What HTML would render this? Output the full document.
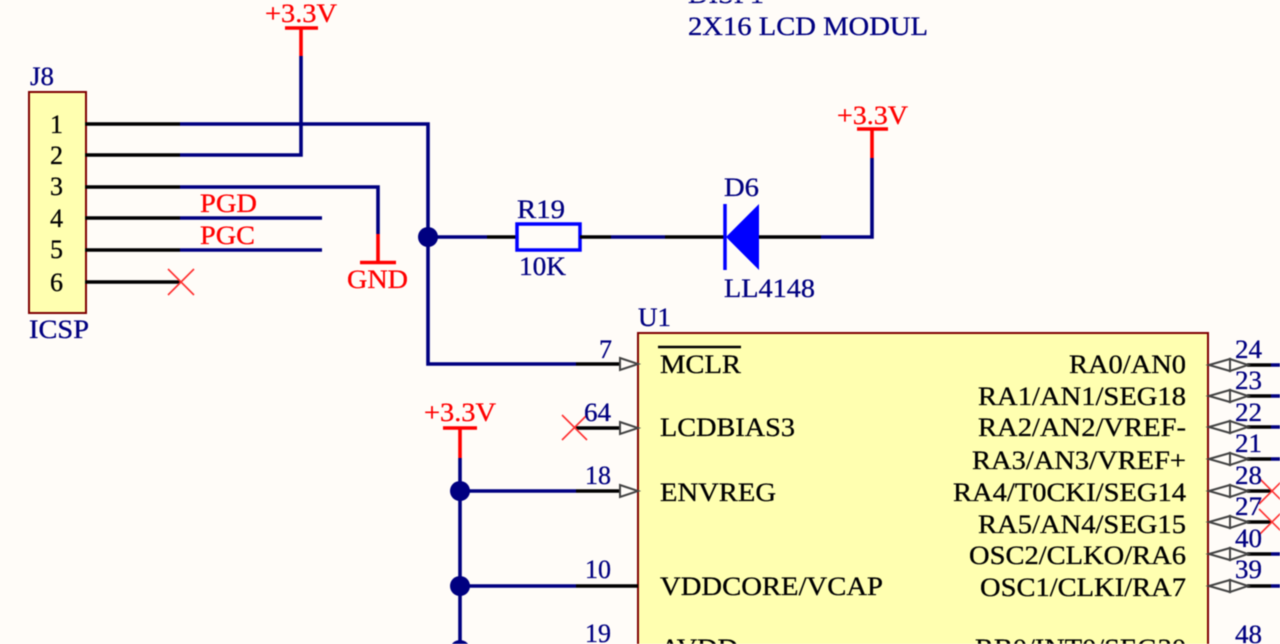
<!DOCTYPE html>
<html>
<head>
<meta charset="utf-8">
<style>
html,body{margin:0;padding:0;background:#fffcf8;width:1280px;height:644px;overflow:hidden}
svg{display:block;filter:blur(0.4px)}
text{font-family:"Liberation Serif",serif;font-size:26px;stroke-width:0.3px}
.n{fill:#000080;stroke:#000080}
.r{fill:#ff0000;stroke:#ff0000}
.k{fill:#000;stroke:#000}
.wn{stroke:#000080;stroke-width:3.6;fill:none;stroke-linejoin:miter}
.wk{stroke:#000;stroke-width:3.6;fill:none}
.wr{stroke:#ff0000;stroke-width:3.6;fill:none}
.x{stroke:#ff3030;stroke-width:1.6;fill:none}
.a{fill:#fffcf8;stroke:#444;stroke-width:2}
</style>
</head>
<body>
<svg width="1280" height="644" viewBox="0 0 1280 644" xmlns="http://www.w3.org/2000/svg">
<rect width="1280" height="644" fill="#fffcf8"/>

<!-- J8 connector -->
<rect x="29" y="92" width="57" height="221" fill="#ffffb0" stroke="#800000" stroke-width="2"/>
<text class="n" x="30" y="85" textLength="24" lengthAdjust="spacingAndGlyphs">J8</text>
<text class="n" x="29" y="338" textLength="60" lengthAdjust="spacingAndGlyphs">ICSP</text>
<text class="k" x="50" y="133" textLength="13" lengthAdjust="spacingAndGlyphs">1</text>
<text class="k" x="50" y="164" textLength="13" lengthAdjust="spacingAndGlyphs">2</text>
<text class="k" x="50" y="195" textLength="13" lengthAdjust="spacingAndGlyphs">3</text>
<text class="k" x="50" y="227" textLength="13" lengthAdjust="spacingAndGlyphs">4</text>
<text class="k" x="50" y="258" textLength="13" lengthAdjust="spacingAndGlyphs">5</text>
<text class="k" x="50" y="291" textLength="13" lengthAdjust="spacingAndGlyphs">6</text>

<!-- J8 wires -->
<path class="wn" d="M180 124H428V364H576"/>
<path class="wn" d="M180 155H301V56"/>
<path class="wn" d="M180 187H378V234"/>
<path class="wn" d="M180 218H322"/>
<path class="wn" d="M180 250H322"/>
<path class="wk" d="M85 124H180M85 155H180M85 187H180M85 218H180M85 250H180M85 282H180"/>
<path class="x" d="M168 269L194 295M194 269L168 295"/>
<text class="r" x="200" y="212" textLength="57" lengthAdjust="spacingAndGlyphs">PGD</text>
<text class="r" x="200" y="244" textLength="55" lengthAdjust="spacingAndGlyphs">PGC</text>

<!-- GND -->
<path class="wr" d="M378 234V262M360 262.500H396"/>
<text class="r" x="347" y="288" textLength="61" lengthAdjust="spacingAndGlyphs">GND</text>

<!-- top +3.3V -->
<text class="r" x="265" y="22" textLength="72" lengthAdjust="spacingAndGlyphs">+3.3V</text>
<path class="wr" d="M285 28H318M301 28V56"/>

<!-- display label -->
<text class="n" x="688" y="3" textLength="76" lengthAdjust="spacingAndGlyphs">DISP1</text>
<text class="n" x="688" y="35" textLength="240" lengthAdjust="spacingAndGlyphs">2X16 LCD MODUL</text>

<!-- R19 / D6 row -->
<circle cx="428" cy="237" r="10" fill="#000080"/>
<path class="wn" d="M428 237H487"/>
<path class="wk" d="M487 237H517"/>
<rect x="517" y="224" width="63" height="26" fill="none" stroke="#0000ff" stroke-width="3.500"/>
<path class="wk" d="M580 237H611"/>
<path class="wn" d="M611 237H665"/>
<path class="wk" d="M665 237H725"/>
<path d="M725 204V270" stroke="#0000ff" stroke-width="3.500" fill="none"/>
<polygon points="726,237 759,204 759,270" fill="#0000ff"/>
<path class="wk" d="M759 237H821"/>
<path class="wn" d="M821 237H872V158"/>
<path class="wr" d="M857 129H888M872 129V158"/>
<text class="r" x="837" y="124" textLength="71" lengthAdjust="spacingAndGlyphs">+3.3V</text>
<text class="n" x="517" y="218" textLength="48" lengthAdjust="spacingAndGlyphs">R19</text>
<text class="n" x="519" y="275" textLength="47" lengthAdjust="spacingAndGlyphs">10K</text>
<text class="n" x="724" y="196" textLength="35" lengthAdjust="spacingAndGlyphs">D6</text>
<text class="n" x="724" y="297" textLength="91" lengthAdjust="spacingAndGlyphs">LL4148</text>

<!-- U1 -->
<text class="n" x="638" y="326" textLength="33" lengthAdjust="spacingAndGlyphs">U1</text>
<rect x="638" y="333" width="570" height="340" fill="#ffffb0" stroke="#800000" stroke-width="2"/>

<!-- left inner labels -->
<path d="M658 347H741" stroke="#000" stroke-width="2.500"/>
<text class="k" x="660" y="373" textLength="81" lengthAdjust="spacingAndGlyphs">MCLR</text>
<text class="k" x="660" y="436" textLength="135" lengthAdjust="spacingAndGlyphs">LCDBIAS3</text>
<text class="k" x="660" y="501" textLength="116" lengthAdjust="spacingAndGlyphs">ENVREG</text>
<text class="k" x="660" y="595" textLength="223" lengthAdjust="spacingAndGlyphs">VDDCORE/VCAP</text>
<text class="k" x="660" y="657" textLength="78" lengthAdjust="spacingAndGlyphs">AVDD</text>

<!-- right inner labels -->
<text class="k" x="1069" y="373" textLength="117" lengthAdjust="spacingAndGlyphs">RA0/AN0</text>
<text class="k" x="978" y="405" textLength="208" lengthAdjust="spacingAndGlyphs">RA1/AN1/SEG18</text>
<text class="k" x="978" y="436" textLength="208" lengthAdjust="spacingAndGlyphs">RA2/AN2/VREF-</text>
<text class="k" x="972" y="469" textLength="214" lengthAdjust="spacingAndGlyphs">RA3/AN3/VREF+</text>
<text class="k" x="953" y="501" textLength="233" lengthAdjust="spacingAndGlyphs">RA4/T0CKI/SEG14</text>
<text class="k" x="978" y="533" textLength="208" lengthAdjust="spacingAndGlyphs">RA5/AN4/SEG15</text>
<text class="k" x="969" y="564" textLength="217" lengthAdjust="spacingAndGlyphs">OSC2/CLKO/RA6</text>
<text class="k" x="980" y="596" textLength="206" lengthAdjust="spacingAndGlyphs">OSC1/CLKI/RA7</text>
<text class="k" x="975" y="657" textLength="211" lengthAdjust="spacingAndGlyphs">RB0/INT0/SEG30</text>

<!-- left pins -->
<path class="wk" d="M576 364H620M576 428H620M576 491H620M576 586H638"/>
<polygon class="a" points="620,358 638,364 620,370"/>
<polygon class="a" points="620,422 638,428 620,434"/>
<polygon class="a" points="620,485 638,491 620,497"/>
<path class="x" d="M562 415L587 440M587 415L562 440"/>
<text class="n" x="599" y="358" textLength="13" lengthAdjust="spacingAndGlyphs">7</text>
<text class="n" x="584" y="421" textLength="27" lengthAdjust="spacingAndGlyphs">64</text>
<text class="n" x="585" y="484" textLength="26" lengthAdjust="spacingAndGlyphs">18</text>
<text class="n" x="585" y="578" textLength="26" lengthAdjust="spacingAndGlyphs">10</text>
<text class="n" x="585" y="642" textLength="26" lengthAdjust="spacingAndGlyphs">19</text>

<!-- lower left power rail -->
<text class="r" x="424" y="421" textLength="72" lengthAdjust="spacingAndGlyphs">+3.3V</text>
<path class="wr" d="M443 428H477M460 428V458"/>
<path class="wn" d="M460 458V644"/>
<path class="wn" d="M460 491H576M460 586H576"/>
<circle cx="460" cy="491" r="10" fill="#000080"/>
<circle cx="460" cy="586" r="10" fill="#000080"/>
<circle cx="460" cy="650" r="10" fill="#000080"/>

<!-- right pins -->
<path class="wk" d="M1247 365H1271M1247 396H1271M1247 427H1271M1247 459H1271M1247 491H1271M1247 522H1271M1247 554H1271M1247 586H1271"/>
<path class="wn" d="M1271 365H1280M1271 396H1280M1271 427H1280M1271 459H1280M1271 554H1280M1271 586H1280"/>
<g class="a">
<polygon points="1209,365 1230,359 1230,371"/><polygon points="1248,365 1230,359 1230,371"/>
<polygon points="1209,396 1230,390 1230,402"/><polygon points="1248,396 1230,390 1230,402"/>
<polygon points="1209,427 1230,421 1230,433"/><polygon points="1248,427 1230,421 1230,433"/>
<polygon points="1209,459 1230,453 1230,465"/><polygon points="1248,459 1230,453 1230,465"/>
<polygon points="1209,491 1230,485 1230,497"/><polygon points="1248,491 1230,485 1230,497"/>
<polygon points="1209,522 1230,516 1230,528"/><polygon points="1248,522 1230,516 1230,528"/>
<polygon points="1209,554 1230,548 1230,560"/><polygon points="1248,554 1230,548 1230,560"/>
<polygon points="1209,586 1230,580 1230,592"/><polygon points="1248,586 1230,580 1230,592"/>
</g>
<path class="x" d="M1259 478L1285 504M1285 478L1259 504"/>
<path class="x" d="M1259 509L1285 535M1285 509L1259 535"/>
<text class="n" x="1235" y="358" textLength="27" lengthAdjust="spacingAndGlyphs">24</text>
<text class="n" x="1235" y="389" textLength="27" lengthAdjust="spacingAndGlyphs">23</text>
<text class="n" x="1235" y="421" textLength="27" lengthAdjust="spacingAndGlyphs">22</text>
<text class="n" x="1235" y="452" textLength="27" lengthAdjust="spacingAndGlyphs">21</text>
<text class="n" x="1235" y="484" textLength="27" lengthAdjust="spacingAndGlyphs">28</text>
<text class="n" x="1235" y="515" textLength="27" lengthAdjust="spacingAndGlyphs">27</text>
<text class="n" x="1235" y="547" textLength="27" lengthAdjust="spacingAndGlyphs">40</text>
<text class="n" x="1235" y="578" textLength="27" lengthAdjust="spacingAndGlyphs">39</text>
<text class="n" x="1235" y="643" textLength="27" lengthAdjust="spacingAndGlyphs">48</text>
</svg>
</body>
</html>
